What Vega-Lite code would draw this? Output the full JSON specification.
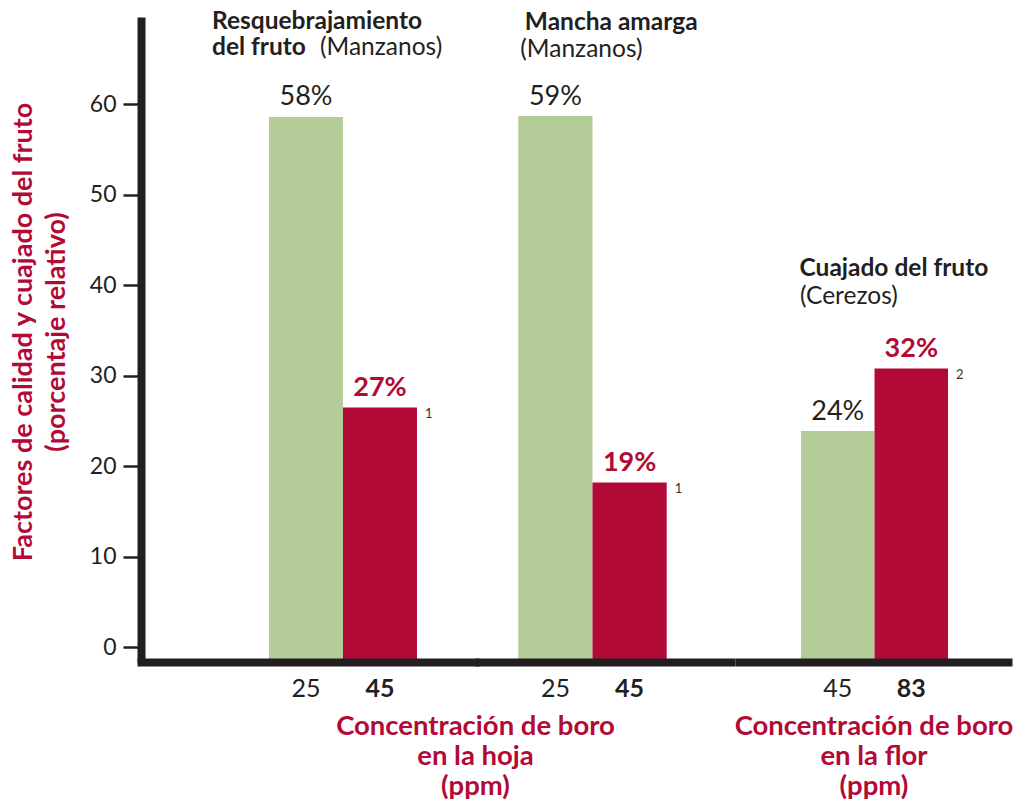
{
  "$schema": "https://vega.github.io/schema/vega-lite/v6.json",
  "background": "white",
  "padding": {"left": 9, "top": 9, "right": 0, "bottom": 0},
  "spacing": 0,
  "bounds": "flush",
  "config": {"view": {"stroke": null}, "font": "Lato", "text": {"font": "Lato"}},
  "datasets": {
    "barras": [
      {"grupo": "Resquebrajamiento", "conc": "25", "nivel": "bajo", "valor": 58.6, "etiqueta": "58%", "nota": ""},
      {"grupo": "Resquebrajamiento", "conc": "45", "nivel": "alto", "valor": 26.5, "etiqueta": "27%", "nota": "1"},
      {"grupo": "Mancha", "conc": "25", "nivel": "bajo", "valor": 58.7, "etiqueta": "59%", "nota": ""},
      {"grupo": "Mancha", "conc": "45", "nivel": "alto", "valor": 18.2, "etiqueta": "19%", "nota": "1"},
      {"grupo": "Cuajado", "conc": "45", "nivel": "bajo", "valor": 23.9, "etiqueta": "24%", "nota": ""},
      {"grupo": "Cuajado", "conc": "83", "nivel": "alto", "valor": 30.8, "etiqueta": "32%", "nota": "2"}
    ]
  },
  "resolve": {"scale": {"x": "independent", "y": "independent"}, "axis": {"x": "independent", "y": "independent"}},
  "hconcat": [
    {
      "width": 334, "height": 645,
      "data": {"name": "barras"},
      "transform": [{"filter": "datum.grupo == 'Resquebrajamiento'"}],
      "encoding": {
        "x": {"field": "conc", "type": "nominal", "sort": null,
          "scale": {"domain": [" ", "25", "45"], "paddingInner": 0, "paddingOuter": 0.757, "align": 0.482, "round": false},
          "axis": {"title": ["Concentración de boro", "en la hoja", "(ppm)"], "titleX": 334, "titleAlign": "center",
            "labelAngle": 0, "ticks": false, "domainWidth": 8, "domainColor": "#231f20", "domainCap": "square",
            "labelFontSize": 25, "labelColor": "#231f20", "labelPadding": 14, "labelFont": "Lato",
            "labelFontWeight": {"condition": {"test": "datum.value == '45'", "value": "bold"}, "value": "normal"},
            "titleFont": "Lato", "titleFontSize": 27.5, "titleFontWeight": "bold", "titleColor": "#b20a37", "titleLineHeight": 30, "titlePadding": 11, "zindex": 1}},
        "y": {"field": "valor", "type": "quantitative",
          "scale": {"domain": [-1.624, 69.65], "nice": false, "zero": false},
          "axis": {"values": [0, 10, 20, 30, 40, 50, 60], "title": ["Factores de calidad y cuajado del fruto", "(porcentaje relativo)"],
            "tickSize": 18, "tickWidth": 2.5, "tickColor": "#231f20", "domainWidth": 8, "domainColor": "#231f20",
            "labelFont": "Lato", "labelFontSize": 23, "labelColor": "#231f20", "labelPadding": 7, "grid": false,
            "titleFont": "Lato", "titleFontSize": 27, "titleColor": "#b20a37", "titleFontWeight": "bold", "titleLineHeight": 33,
            "titlePadding": 19, "titleY": 314.5, "zindex": 1}}
      },
      "layer": [
        {"mark": {"type": "bar"},
          "encoding": {"y2": {"datum": -1.624},
            "color": {"field": "nivel", "type": "nominal", "scale": {"domain": ["bajo", "alto"], "range": ["#b4cc97", "#b20a37"]}, "legend": null}}},
        {"transform": [{"filter": "datum.nivel == 'bajo'"}],
          "mark": {"type": "text", "baseline": "alphabetic", "dy": -11.5, "fontSize": 27, "color": "#231f20"},
          "encoding": {"text": {"field": "etiqueta"}}},
        {"transform": [{"filter": "datum.nivel == 'alto'"}],
          "mark": {"type": "text", "baseline": "alphabetic", "dy": -11.5, "fontSize": 27, "fontWeight": "bold", "color": "#b20a37"},
          "encoding": {"text": {"field": "etiqueta"}}},
        {"transform": [{"filter": "datum.nivel == 'alto'"}],
          "mark": {"type": "text", "baseline": "alphabetic", "align": "left", "dx": 8, "dy": 10.5, "fontSize": 13, "color": "#333333"},
          "encoding": {"x": {"field": "conc", "type": "nominal", "bandPosition": 1}, "text": {"field": "nota"}}},
        {"transform": [{"filter": "datum.nivel == 'bajo'"}],
          "mark": {"type": "text", "baseline": "alphabetic", "align": "left", "dx": -57, "fontSize": 24.5, "fontWeight": "bold", "color": "#231f20", "clip": false},
          "encoding": {"x": {"field": "conc", "type": "nominal", "bandPosition": 0}, "y": {"datum": 68.3}, "text": {"value": "Resquebrajamiento"}}},
        {"transform": [{"filter": "datum.nivel == 'bajo'"}],
          "mark": {"type": "text", "baseline": "alphabetic", "align": "left", "dx": -57, "fontSize": 24.5, "fontWeight": "bold", "color": "#231f20", "clip": false},
          "encoding": {"x": {"field": "conc", "type": "nominal", "bandPosition": 0}, "y": {"datum": 65.4}, "text": {"value": "del fruto"}}},
        {"transform": [{"filter": "datum.nivel == 'bajo'"}],
          "mark": {"type": "text", "baseline": "alphabetic", "align": "left", "dx": 51, "fontSize": 24.5, "color": "#231f20", "clip": false},
          "encoding": {"x": {"field": "conc", "type": "nominal", "bandPosition": 0}, "y": {"datum": 65.4}, "text": {"value": "(Manzanos)"}}}
      ]
    },
    {
      "width": 260, "height": 645,
      "data": {"name": "barras"},
      "transform": [{"filter": "datum.grupo == 'Mancha'"}],
      "encoding": {
        "x": {"field": "conc", "type": "nominal", "sort": null,
          "scale": {"paddingInner": 0, "paddingOuter": 0.752, "align": 0.388, "round": false},
          "axis": {"title": null,
            "labelAngle": 0, "ticks": false, "domainWidth": 8, "domainColor": "#231f20", "domainCap": "butt",
            "labelFontSize": 25, "labelColor": "#231f20", "labelPadding": 14, "labelFont": "Lato",
            "labelFontWeight": {"condition": {"test": "datum.value == '45'", "value": "bold"}, "value": "normal"}, "zindex": 1}},
        "y": {"field": "valor", "type": "quantitative",
          "scale": {"domain": [-1.624, 69.65], "nice": false, "zero": false}, "axis": null}
      },
      "layer": [
        {"mark": {"type": "bar"},
          "encoding": {"y2": {"datum": -1.624},
            "color": {"field": "nivel", "type": "nominal", "scale": {"domain": ["bajo", "alto"], "range": ["#b4cc97", "#b20a37"]}, "legend": null}}},
        {"transform": [{"filter": "datum.nivel == 'bajo'"}],
          "mark": {"type": "text", "baseline": "alphabetic", "dy": -11.5, "fontSize": 27, "color": "#231f20"},
          "encoding": {"text": {"field": "etiqueta"}}},
        {"transform": [{"filter": "datum.nivel == 'alto'"}],
          "mark": {"type": "text", "baseline": "alphabetic", "dy": -11.5, "fontSize": 27, "fontWeight": "bold", "color": "#b20a37"},
          "encoding": {"text": {"field": "etiqueta"}}},
        {"transform": [{"filter": "datum.nivel == 'alto'"}],
          "mark": {"type": "text", "baseline": "alphabetic", "align": "left", "dx": 8, "dy": 10.5, "fontSize": 13, "color": "#333333"},
          "encoding": {"x": {"field": "conc", "type": "nominal", "bandPosition": 1}, "text": {"field": "nota"}}},
        {"transform": [{"filter": "datum.nivel == 'bajo'"}],
          "mark": {"type": "text", "baseline": "alphabetic", "align": "left", "dx": 6.5, "fontSize": 24.5, "fontWeight": "bold", "color": "#231f20", "clip": false},
          "encoding": {"x": {"field": "conc", "type": "nominal", "bandPosition": 0}, "y": {"datum": 68.21}, "text": {"value": "Mancha amarga"}}},
        {"transform": [{"filter": "datum.nivel == 'bajo'"}],
          "mark": {"type": "text", "baseline": "alphabetic", "align": "left", "dx": 2, "fontSize": 24.5, "color": "#231f20", "clip": false},
          "encoding": {"x": {"field": "conc", "type": "nominal", "bandPosition": 0}, "y": {"datum": 65.2}, "text": {"value": "(Manzanos)"}}}
      ]
    },
    {
      "width": 277, "height": 645,
      "data": {"name": "barras"},
      "transform": [{"filter": "datum.grupo == 'Cuajado'"}],
      "encoding": {
        "x": {"field": "conc", "type": "nominal", "sort": null,
          "scale": {"paddingInner": 0, "paddingOuter": 0.884, "align": 0.508, "round": false},
          "axis": {"title": ["Concentración de boro", "en la flor", "(ppm)"],
            "labelAngle": 0, "ticks": false, "domainWidth": 8, "domainColor": "#231f20", "domainCap": "butt",
            "labelFontSize": 25, "labelColor": "#231f20", "labelPadding": 14, "labelFont": "Lato",
            "labelFontWeight": {"condition": {"test": "datum.value == '83'", "value": "bold"}, "value": "normal"},
            "titleFont": "Lato", "titleFontSize": 27.5, "titleFontWeight": "bold", "titleColor": "#b20a37", "titleLineHeight": 30, "titlePadding": 11, "zindex": 1}},
        "y": {"field": "valor", "type": "quantitative",
          "scale": {"domain": [-1.624, 69.65], "nice": false, "zero": false}, "axis": null}
      },
      "layer": [
        {"mark": {"type": "bar"},
          "encoding": {"y2": {"datum": -1.624},
            "color": {"field": "nivel", "type": "nominal", "scale": {"domain": ["bajo", "alto"], "range": ["#b4cc97", "#b20a37"]}, "legend": null}}},
        {"transform": [{"filter": "datum.nivel == 'bajo'"}],
          "mark": {"type": "text", "baseline": "alphabetic", "dy": -11.5, "fontSize": 27, "color": "#231f20"},
          "encoding": {"text": {"field": "etiqueta"}}},
        {"transform": [{"filter": "datum.nivel == 'alto'"}],
          "mark": {"type": "text", "baseline": "alphabetic", "dy": -11.5, "fontSize": 27, "fontWeight": "bold", "color": "#b20a37"},
          "encoding": {"text": {"field": "etiqueta"}}},
        {"transform": [{"filter": "datum.nivel == 'alto'"}],
          "mark": {"type": "text", "baseline": "alphabetic", "align": "left", "dx": 8, "dy": 10.5, "fontSize": 13, "color": "#333333"},
          "encoding": {"x": {"field": "conc", "type": "nominal", "bandPosition": 1}, "text": {"field": "nota"}}},
        {"transform": [{"filter": "datum.nivel == 'bajo'"}],
          "mark": {"type": "text", "baseline": "alphabetic", "align": "left", "dx": -1.5, "fontSize": 24.5, "fontWeight": "bold", "color": "#231f20", "clip": false},
          "encoding": {"x": {"field": "conc", "type": "nominal", "bandPosition": 0}, "y": {"datum": 41.0}, "text": {"value": "Cuajado del fruto"}}},
        {"transform": [{"filter": "datum.nivel == 'bajo'"}],
          "mark": {"type": "text", "baseline": "alphabetic", "align": "left", "dx": -1, "fontSize": 24.5, "color": "#231f20", "clip": false},
          "encoding": {"x": {"field": "conc", "type": "nominal", "bandPosition": 0}, "y": {"datum": 37.95}, "text": {"value": "(Cerezos)"}}}
      ]
    }
  ]
}
